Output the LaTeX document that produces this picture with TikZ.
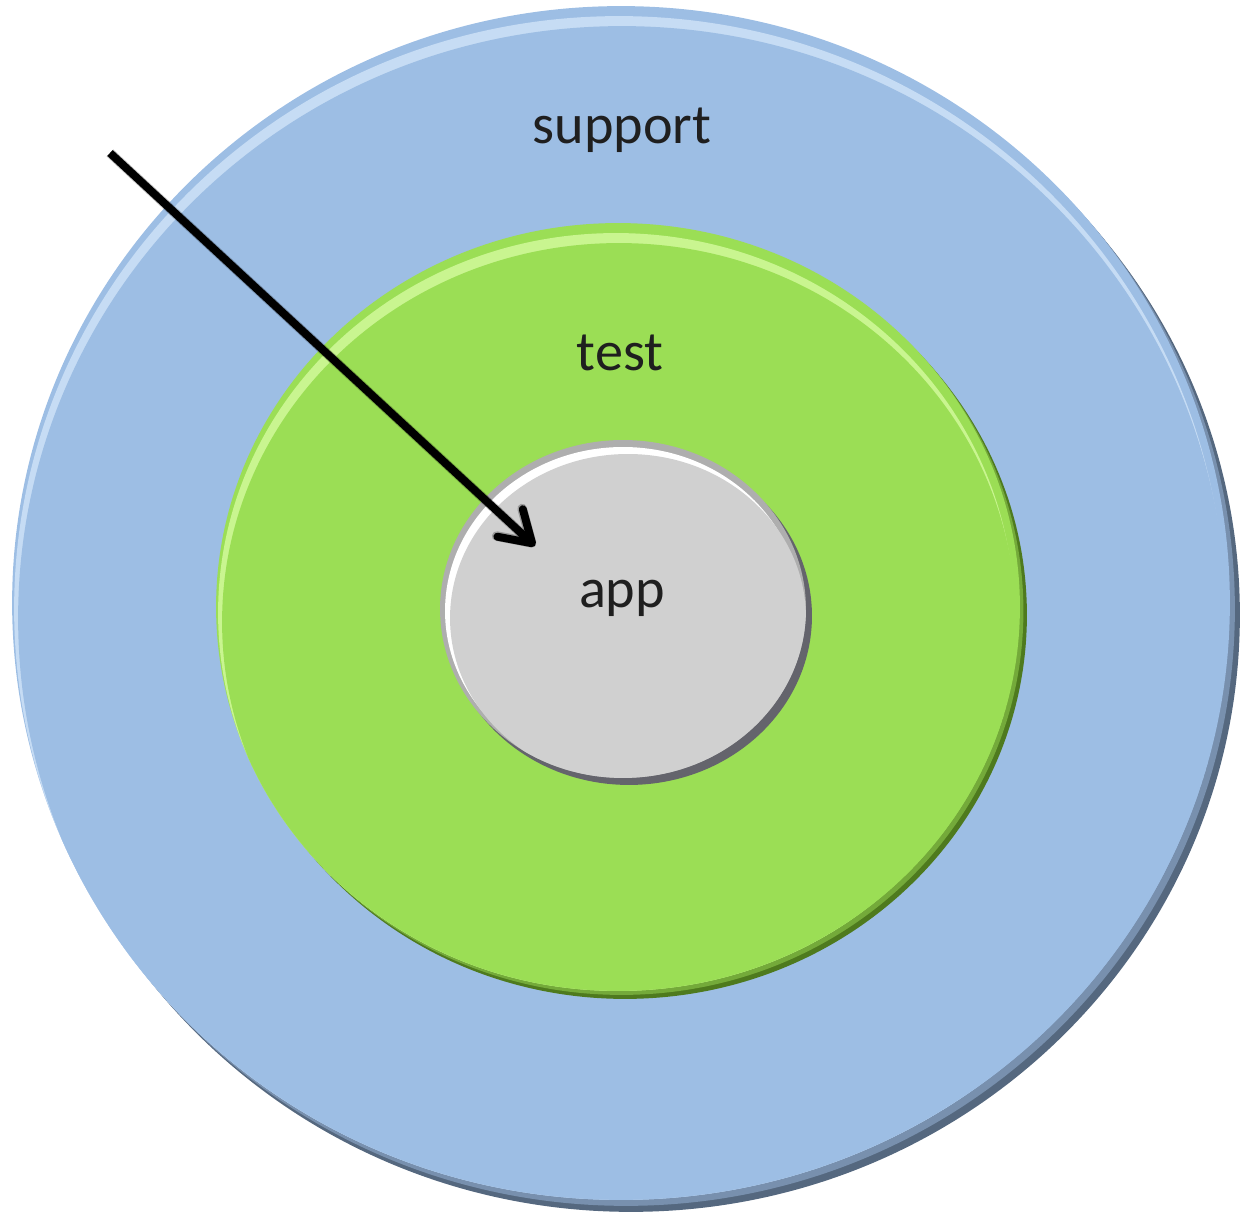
\documentclass[tikz,border=0pt]{standalone}
\usepackage{tikz}
\usepackage{xcolor}
\usepackage{fontspec}
\setmainfont{Carlito}
\usetikzlibrary{shapes.geometric,arrows.meta}
\definecolor{supportblue}{HTML}{9DBEE4}
\definecolor{supportmid}{HTML}{7890AE}
\definecolor{supportrim}{HTML}{55687F}
\definecolor{supportlight}{HTML}{C6DCF4}
\definecolor{testgreen}{HTML}{9BDE55}
\definecolor{testmid}{HTML}{74AA3A}
\definecolor{testrim}{HTML}{4E7A1E}
\definecolor{testlight}{HTML}{C9F590}
\definecolor{appgray}{HTML}{D0D0D0}
\definecolor{appedge}{HTML}{AEAEAE}
\definecolor{apprim}{HTML}{64646C}
\tikzset{
    disc/.style={ellipse, inner sep=0pt, draw=none},
    label/.style={font=\fontsize{32}{38}\selectfont, text=black!88}
}

\begin{document}
\begin{tikzpicture}[x=0.02cm, y=0.02cm]
    \useasboundingbox (0,0) rectangle (1245,1219);
    % support ring
    \node[disc, fill=supportrim, minimum width=24.36cm, minimum height=23.88cm] (supportshade) at (631,604) {};
    \node[disc, fill=supportmid, minimum width=24.36cm, minimum height=23.88cm] (supportmidshade) at (626,610) {};
    \node[disc, fill=supportblue, minimum width=24.36cm, minimum height=23.88cm] (support) at (621,616) {};
    \begin{scope}
        \clip (support.center) ellipse [x radius=12.18cm, y radius=11.94cm];
        \node[disc, fill=supportlight, minimum width=24.2cm, minimum height=23.72cm] (supporthl) at (619,610) {};
        \node[disc, fill=supportblue, minimum width=24.16cm, minimum height=23.68cm] (supportinner) at (622,601) {};
    \end{scope}

    % test ring
    \node[disc, fill=testrim, minimum width=16.08cm, minimum height=15.36cm] (testshade) at (625,604) {};
    \node[disc, fill=testmid, minimum width=16.08cm, minimum height=15.36cm] (testmidshade) at (621.5,608) {};
    \node[disc, fill=testgreen, minimum width=16.08cm, minimum height=15.36cm] (test) at (618,612) {};
    \begin{scope}
        \clip (test.center) ellipse [x radius=8.04cm, y radius=7.68cm];
        \node[disc, fill=testlight, minimum width=15.92cm, minimum height=15.2cm] (testhl) at (616,606) {};
        \node[disc, fill=testgreen, minimum width=15.88cm, minimum height=15.16cm] (testinner) at (619,597) {};
    \end{scope}

    % app disc
    \node[disc, fill=apprim, minimum width=7.32cm, minimum height=6.76cm] (appshade) at (629,603) {};
    \node[disc, fill=appedge, minimum width=7.32cm, minimum height=6.76cm] (appedge) at (623,610) {};
    \begin{scope}
        \clip (appedge.center) ellipse [x radius=3.66cm, y radius=3.38cm];
        \node[disc, fill=white, minimum width=7.12cm, minimum height=6.56cm] (apphl) at (623,608) {};
        \node[disc, fill=appgray, minimum width=7.12cm, minimum height=6.56cm] (app) at (628,601) {};
    \end{scope}

    % labels
    \node[label] (supportlabel) at (622,1089) {support};
    \node[label] (testlabel) at (620,866) {test};
    \node[label] (applabel) at (622,621) {app};

    % arrow
    \coordinate (start) at (110,1066);
    \coordinate (tip) at (535,673);
    \draw[black, opacity=0.25, line width=5.5pt, shift={(2,-2)}, -{Straight Barb[round, length=0.6cm, width=0.75cm]}] (start) -- (tip);
    \draw[line width=4.5pt, -{Straight Barb[round, length=0.6cm, width=0.75cm]}] (start) -- (tip);
\end{tikzpicture}
\end{document}
